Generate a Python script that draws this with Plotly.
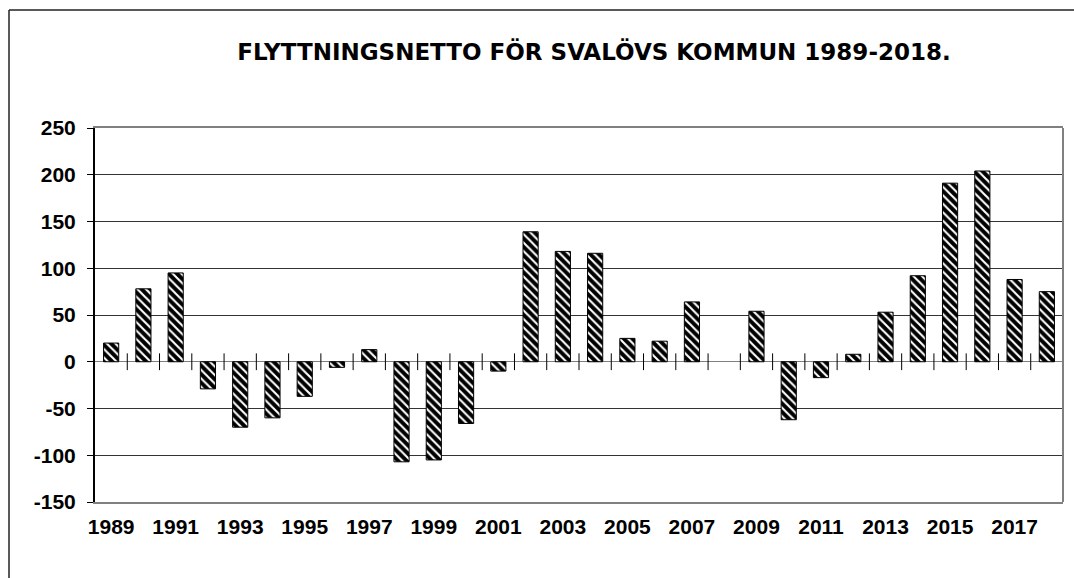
import plotly.graph_objects as go

years = list(range(1989, 2019))
netto = [20, 78, 95, -29, -70, -60, -37, -6, 13, -107,
         -105, -66, -10, 139, 118, 116, 25, 22, 64, None,
         54, -62, -17, 8, 53, 92, 191, 204, 88, 75]
xtick_years = list(range(1989, 2018, 2))
ytick_vals = [-150, -100, -50, 0, 50, 100, 150, 200, 250]
ytick_text = ["-150", "-100", "-50", "0", "50", "100", "150", "200", "250"]
title_text = "FLYTTNINGSNETTO FÖR SVALÖVS KOMMUN 1989-2018."

W, H = 1074, 578
ml, mr, mt, mb = 95, 11, 128, 76
pw = W - ml - mr
ph = H - mt - mb

font_fam = "Liberation Sans, Arial, sans-serif"

fig = go.Figure()
fig.add_trace(go.Bar(
    x=years, y=netto, width=0.47,
    marker=dict(color="black",
                line=dict(color="black", width=1),
                pattern=dict(shape="\\", fgcolor="white", bgcolor="black",
                             size=6, solidity=0.35, fillmode="replace")),
    showlegend=False, hoverinfo="x+y",
))

# tick marks at category boundaries crossing the zero line
boundaries = [y + 0.5 for y in years]
fig.add_trace(go.Scatter(
    x=boundaries, y=[0] * len(boundaries), mode="markers",
    marker=dict(symbol="line-ns-open", size=12, color="black",
                line=dict(color="black", width=1)),
    showlegend=False, hoverinfo="skip", cliponaxis=False,
))

fig.update_layout(
    width=W, height=H,
    margin=dict(l=ml, r=mr, t=mt, b=mb, autoexpand=False),
    paper_bgcolor="white", plot_bgcolor="white",
    title=dict(text=title_text, x=(594 - ml) / pw, xref="paper",
               xanchor="center", y=1 - 52 / H, yanchor="middle",
               font=dict(family="DejaVu Sans, sans-serif", size=23, color="black",
                         weight="bold")),
    xaxis=dict(range=[1988.5, 2018.5], tickmode="array", automargin=False,
               tickvals=xtick_years, ticktext=[str(v) for v in xtick_years],
               ticks="", showgrid=False, zeroline=False,
               showline=True, linecolor="#808080", linewidth=2, mirror=True,
               tickfont=dict(family=font_fam, size=21, color="black", weight="bold"),
               ticklabelstandoff=5),
    yaxis=dict(range=[-150, 250], tickmode="array", tickvals=ytick_vals,
               ticktext=ytick_text, automargin=False,
               ticks="outside", ticklen=6, tickcolor="black", tickwidth=1,
               showgrid=True, gridcolor="#333333", gridwidth=1,
               zeroline=True, zerolinecolor="#808080", zerolinewidth=1,
               showline=True, linecolor="black", linewidth=2,
               tickfont=dict(family=font_fam, size=21, color="black", weight="bold"),
               ticklabelstandoff=7),
    bargap=0.53,
)

# right border of plot area and outer frame lines
fig.add_shape(type="line", xref="paper", yref="paper", x0=1, x1=1, y0=0, y1=1,
              line=dict(color="#808080", width=2), layer="above")
fx = (9 - ml) / pw
fy = (H - mb - 10) / ph
fig.add_shape(type="line", xref="paper", yref="paper", x0=fx, x1=(W + 20 - ml) / pw,
              y0=fy, y1=fy, line=dict(color="#222222", width=1.5))
fig.add_shape(type="line", xref="paper", yref="paper", x0=fx, x1=fx,
              y0=fy, y1=-(mb + 20) / ph, line=dict(color="#222222", width=1.5))

fig.write_html("out.html", config={"displayModeBar": False},
               post_script="document.body.style.margin='0';document.body.style.overflow='hidden';")
